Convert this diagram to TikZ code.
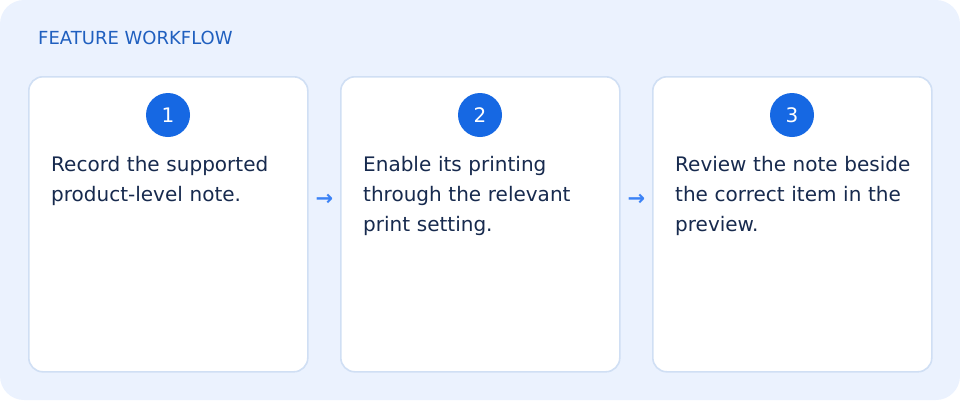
\documentclass[tikz,border=0pt]{standalone}
\usepackage{fontspec}
\setmainfont{DejaVu Sans}
\usetikzlibrary{calc}
\definecolor{bgc}{HTML}{EBF2FE}
\definecolor{cardline}{HTML}{D0DFF4}
\definecolor{titlec}{HTML}{1F5FBF}
\definecolor{circc}{HTML}{1668E3}
\definecolor{textc}{HTML}{172A4E}
\definecolor{arrowc}{HTML}{3B82F6}
\tikzset{
  card/.style={draw=cardline, line width=1.6pt, fill=white, rounded corners=14pt, minimum width=279pt, minimum height=295pt, inner sep=0pt},
  badge/.style={circle, fill=circc, minimum size=44pt, inner sep=0pt, text=white, font=\fontsize{20}{20}\selectfont},
  body/.style={anchor=north west, align=left, text=textc, inner sep=0pt, text width=250pt, font=\fontsize{20}{30}\selectfont},
  flow/.style={text=arrowc, font=\bfseries\fontsize{21}{21}\selectfont, inner sep=0pt}
}
\begin{document}
\begin{tikzpicture}[x=1pt,y=-1pt]
\useasboundingbox (0,0) rectangle (960,400);
\fill[bgc, rounded corners=24pt] (0,0) rectangle (960,400);
\node[anchor=base west, text=titlec, inner sep=0pt, font=\fontsize{18}{18}\selectfont] (title) at (38,44) {FEATURE WORKFLOW};
\node[card, anchor=north west] (c1) at (28,76) {};
\node[card, anchor=north west] (c2) at (340,76) {};
\node[card, anchor=north west] (c3) at (652,76) {};
\node[badge] (b1) at (168,115) {1};
\node[badge] (b2) at (480,115) {2};
\node[badge] (b3) at (792,115) {3};
\node[body] (t1) at (51,156) {Record the supported\\product-level note.};
\node[body] (t2) at (363,156) {Enable its printing\\through the relevant\\print setting.};
\node[body] (t3) at (675,156) {Review the note beside\\the correct item in the\\preview.};
\node[flow] (a1) at ($(c1.east)!0.5!(c2.west)+(0,-24)$) {→};
\node[flow] (a2) at ($(c2.east)!0.5!(c3.west)+(0,-24)$) {→};
\end{tikzpicture}
\end{document}
